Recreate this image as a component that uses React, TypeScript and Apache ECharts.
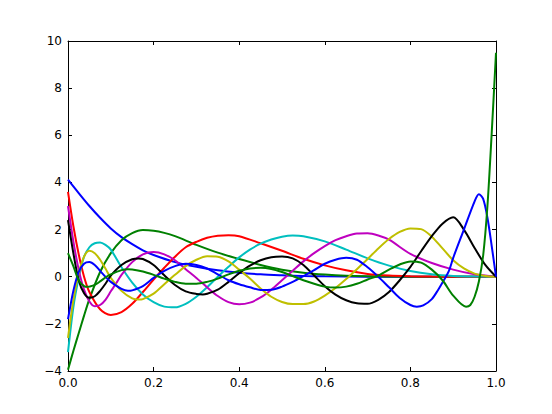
import React, { useEffect, useRef } from "react";
import * as echarts from "echarts";

// x/y samples for each curve (matplotlib colour cycle b,g,r,c,m,y,k,b,g)
const blue0X = [0, 0.025, 0.05, 0.075, 0.1, 0.125, 0.15, 0.175, 0.2, 0.25, 0.3, 0.35, 0.4, 0.45, 0.5, 0.55, 0.6, 0.7, 0.8, 0.9, 1];
const blue0Y = [4.12, 3.55, 3.0, 2.5, 2.05, 1.68, 1.38, 1.12, 0.92, 0.62, 0.42, 0.27, 0.17, 0.1, 0.06, 0.03, 0.015, 0.003, 0, 0, 0];

const green1X = [0, 0.0125, 0.025, 0.0375, 0.05, 0.075, 0.1, 0.125, 0.15, 0.175, 0.2, 0.225, 0.25, 0.3, 0.35, 0.4, 0.45, 0.5, 0.55, 0.6, 0.65, 0.7, 0.8, 0.9, 1];
const green1Y = [-3.95, -3.15, -2.4, -1.65, -0.95, 0.2, 1.0, 1.55, 1.85, 1.98, 1.95, 1.86, 1.72, 1.35, 1.02, 0.75, 0.5, 0.3, 0.17, 0.09, 0.04, 0.02, 0, 0, 0];

const red2X = [0, 0.0125, 0.025, 0.0375, 0.05, 0.075, 0.1, 0.125, 0.15, 0.175, 0.2, 0.225, 0.25, 0.275, 0.3, 0.325, 0.35, 0.375, 0.4, 0.45, 0.5, 0.55, 0.6, 0.65, 0.7, 0.75, 0.8, 0.85, 0.9, 1];
const red2Y = [3.6, 2.15, 0.95, 0.0, -0.65, -1.38, -1.62, -1.5, -1.15, -0.65, -0.12, 0.38, 0.85, 1.25, 1.48, 1.65, 1.74, 1.76, 1.72, 1.42, 1.1, 0.76, 0.48, 0.27, 0.12, 0.05, 0.02, 0.005, 0, 0];

const cyan3X = [0, 0.0125, 0.025, 0.0375, 0.05, 0.0625, 0.075, 0.0875, 0.1, 0.125, 0.15, 0.175, 0.2, 0.225, 0.25, 0.275, 0.3, 0.325, 0.35, 0.375, 0.4, 0.425, 0.45, 0.475, 0.5, 0.525, 0.55, 0.6, 0.65, 0.7, 0.75, 0.8, 0.85, 0.9, 0.95, 1];
const cyan3Y = [-3.2, -1.3, -0.05, 0.85, 1.25, 1.42, 1.45, 1.35, 1.15, 0.4, -0.25, -0.75, -1.08, -1.27, -1.3, -1.15, -0.85, -0.45, 0.0, 0.42, 0.82, 1.15, 1.4, 1.58, 1.7, 1.75, 1.72, 1.5, 1.15, 0.78, 0.47, 0.24, 0.1, 0.03, 0.005, 0];

const magenta4X = [0, 0.0125, 0.025, 0.0375, 0.05, 0.0625, 0.075, 0.0875, 0.1, 0.1125, 0.125, 0.15, 0.175, 0.2, 0.225, 0.25, 0.275, 0.3, 0.325, 0.35, 0.375, 0.4, 0.425, 0.45, 0.475, 0.5, 0.525, 0.55, 0.575, 0.6, 0.625, 0.65, 0.675, 0.7, 0.725, 0.75, 0.8, 0.85, 0.9, 0.95, 1];
const magenta4Y = [3.0, 1.5, 0.3, -0.55, -1.05, -1.25, -1.2, -0.98, -0.62, -0.28, 0.08, 0.62, 0.95, 1.05, 0.95, 0.7, 0.32, -0.05, -0.45, -0.82, -1.08, -1.17, -1.1, -0.88, -0.55, -0.15, 0.25, 0.65, 1.0, 1.3, 1.55, 1.72, 1.83, 1.84, 1.75, 1.57, 0.97, 0.58, 0.3, 0.1, 0];

const yellow5X = [0, 0.0125, 0.025, 0.0375, 0.05, 0.0625, 0.075, 0.0875, 0.1, 0.125, 0.15, 0.165, 0.175, 0.2, 0.225, 0.25, 0.275, 0.3, 0.325, 0.35, 0.375, 0.4, 0.425, 0.45, 0.475, 0.5, 0.525, 0.55, 0.575, 0.6, 0.625, 0.65, 0.675, 0.7, 0.725, 0.75, 0.775, 0.8, 0.825, 0.85, 0.875, 0.9, 0.925, 0.95, 0.975, 1];
const yellow5Y = [-2.6, -1.0, 0.15, 0.85, 1.1, 1.0, 0.72, 0.35, -0.05, -0.6, -0.92, -0.97, -0.95, -0.72, -0.32, 0.08, 0.45, 0.72, 0.87, 0.85, 0.65, 0.3, -0.08, -0.5, -0.85, -1.07, -1.16, -1.16, -1.05, -0.8, -0.48, -0.1, 0.32, 0.75, 1.2, 1.6, 1.9, 2.05, 2.02, 1.7, 1.2, 0.7, 0.35, 0.13, 0.03, 0];

const black6X = [0, 0.0125, 0.025, 0.0375, 0.05, 0.0625, 0.075, 0.0875, 0.1, 0.125, 0.15, 0.165, 0.175, 0.2, 0.225, 0.25, 0.275, 0.3, 0.315, 0.325, 0.35, 0.375, 0.4, 0.425, 0.45, 0.475, 0.5, 0.525, 0.55, 0.575, 0.6, 0.625, 0.65, 0.675, 0.7, 0.725, 0.75, 0.775, 0.8, 0.825, 0.85, 0.875, 0.9, 0.925, 0.95, 0.975, 1];
const black6Y = [2.4, 1.0, -0.15, -0.7, -0.89, -0.83, -0.6, -0.3, 0.05, 0.5, 0.74, 0.77, 0.75, 0.5, 0.06, -0.35, -0.62, -0.73, -0.75, -0.72, -0.55, -0.22, 0.15, 0.47, 0.7, 0.83, 0.86, 0.78, 0.5, 0.05, -0.4, -0.76, -1.0, -1.13, -1.15, -0.98, -0.65, -0.15, 0.42, 1.08, 1.72, 2.25, 2.52, 2.0, 1.22, 0.5, 0];

const blue7X = [0, 0.0125, 0.025, 0.0375, 0.05, 0.0625, 0.075, 0.09, 0.1, 0.125, 0.14, 0.15, 0.175, 0.2, 0.225, 0.25, 0.275, 0.3, 0.325, 0.35, 0.375, 0.4, 0.425, 0.45, 0.475, 0.5, 0.525, 0.55, 0.575, 0.6, 0.625, 0.65, 0.675, 0.7, 0.725, 0.75, 0.775, 0.8, 0.815, 0.83, 0.85, 0.865, 0.875, 0.89, 0.9, 0.925, 0.95, 0.96, 0.97, 0.98, 0.99, 1];
const blue7Y = [-1.8, -0.6, 0.2, 0.55, 0.62, 0.5, 0.25, -0.05, -0.22, -0.52, -0.6, -0.58, -0.4, -0.05, 0.25, 0.45, 0.55, 0.5, 0.35, 0.1, -0.15, -0.32, -0.45, -0.56, -0.55, -0.42, -0.22, 0.02, 0.28, 0.55, 0.72, 0.8, 0.72, 0.4, 0.0, -0.45, -0.9, -1.2, -1.27, -1.22, -0.95, -0.55, -0.25, 0.25, 0.8, 2.0, 3.2, 3.5, 3.3, 2.5, 1.3, 0];

const green8X = [0, 0.0125, 0.025, 0.0375, 0.045, 0.05, 0.0625, 0.075, 0.09, 0.1, 0.125, 0.14, 0.15, 0.175, 0.2, 0.225, 0.25, 0.275, 0.3, 0.325, 0.35, 0.375, 0.4, 0.425, 0.45, 0.475, 0.5, 0.525, 0.55, 0.575, 0.6, 0.625, 0.65, 0.675, 0.7, 0.725, 0.75, 0.775, 0.8, 0.825, 0.85, 0.875, 0.9, 0.93, 0.94, 0.95, 0.96, 0.97, 0.98, 0.99, 1];
const green8Y = [1.0, 0.45, -0.15, -0.4, -0.43, -0.42, -0.35, -0.2, 0.0, 0.1, 0.28, 0.32, 0.31, 0.22, 0.08, -0.08, -0.22, -0.3, -0.3, -0.22, -0.08, 0.1, 0.25, 0.35, 0.38, 0.33, 0.2, 0.03, -0.15, -0.3, -0.42, -0.46, -0.42, -0.3, -0.12, 0.05, 0.3, 0.52, 0.65, 0.6, 0.3, -0.15, -0.8, -1.27, -1.2, -0.85, -0.2, 0.9, 3.0, 6.1, 9.5];

const xTicks = [0, 0.2, 0.4, 0.6, 0.8, 1.0];
const yTicks = [-4, -2, 0, 2, 4, 6, 8, 10];

const curves: { x: number[]; y: number[]; color: string }[] = [
  { x: blue0X, y: blue0Y, color: "#0000ff" },
  { x: green1X, y: green1Y, color: "#008000" },
  { x: red2X, y: red2Y, color: "#ff0000" },
  { x: cyan3X, y: cyan3Y, color: "#00bfbf" },
  { x: magenta4X, y: magenta4Y, color: "#bf00bf" },
  { x: yellow5X, y: yellow5Y, color: "#bfbf00" },
  { x: black6X, y: black6Y, color: "#000000" },
  { x: blue7X, y: blue7Y, color: "#0000ff" },
  { x: green8X, y: green8Y, color: "#008000" },
];

const FONT = "DejaVu Sans";

export default function App() {
  const ref = useRef<HTMLDivElement>(null);
  useEffect(() => {
    if (!ref.current) return;
    const chart = echarts.init(ref.current, undefined, { renderer: "svg" });
    const axisLine = { show: true, onZero: false, lineStyle: { color: "#000", width: 1 } };
    const axisTick = { show: true, inside: true, length: 4, lineStyle: { color: "#000", width: 1 } };
    const xMin = xTicks[0];
    const xMax = xTicks[xTicks.length - 1];
    const xInt = xTicks[1] - xTicks[0];
    const yMin = yTicks[0];
    const yMax = yTicks[yTicks.length - 1];
    const yInt = yTicks[1] - yTicks[0];
    chart.setOption({
      animation: false,
      backgroundColor: "#ffffff",
      grid: { left: 68, right: 56, top: 41, bottom: 43, containLabel: false },
      xAxis: [
        {
          type: "value", min: xMin, max: xMax, interval: xInt, position: "bottom",
          axisLine, axisTick, splitLine: { show: false },
          axisLabel: {
            color: "#000", fontSize: 12, fontFamily: FONT, margin: 6,
            formatter: (v: number) => v.toFixed(1),
          },
        },
        {
          type: "value", min: xMin, max: xMax, interval: xInt, position: "top",
          axisLine, axisTick, splitLine: { show: false }, axisLabel: { show: false },
        },
      ],
      yAxis: [
        {
          type: "value", min: yMin, max: yMax, interval: yInt, position: "left",
          axisLine, axisTick, splitLine: { show: false },
          axisLabel: {
            color: "#000", fontSize: 12, fontFamily: FONT, margin: 6,
            formatter: (v: number) => (v < 0 ? "\u2212" + Math.abs(v) : String(v)),
          },
        },
        {
          type: "value", min: yMin, max: yMax, interval: yInt, position: "right",
          axisLine, axisTick, splitLine: { show: false }, axisLabel: { show: false },
        },
      ],
      series: curves.map((c) => ({
        type: "line",
        xAxisIndex: 0,
        yAxisIndex: 0,
        data: c.x.map((xv, i) => [xv, c.y[i]]),
        showSymbol: false,
        symbol: "none",
        smooth: 0.3,
        lineStyle: { color: c.color, width: 2 },
        itemStyle: { color: c.color },
        clip: true,
      })),
    });
    return () => chart.dispose();
  }, []);
  return (
    <div
      ref={ref}
      style={{ position: "absolute", left: 0, top: 0, width: 552, height: 414, background: "#fff" }}
    />
  );
}
